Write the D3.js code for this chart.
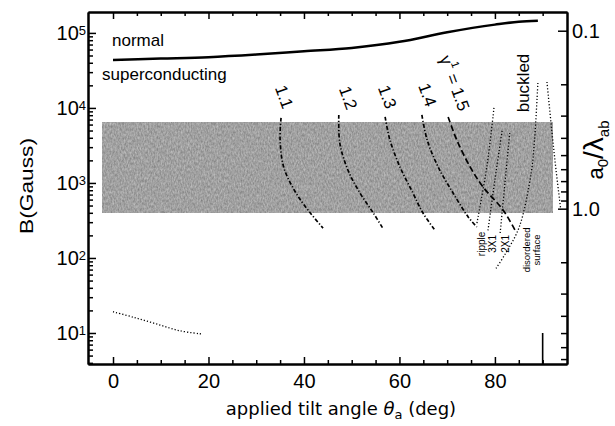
<!DOCTYPE html>
<html>
<head>
<meta charset="utf-8">
<script src="https://cdn.jsdelivr.net/npm/d3@7"></script>
<style>
body { margin: 0; background: #fff; }
svg { display: block; font-family: "Liberation Sans", Arial, sans-serif; }
</style>
</head>
<body>
<div id="chart"></div>
<script>
// ---- data ----
const normalDeg = [0, 10, 20, 30, 40, 50, 60, 70, 80, 85, 89];
const normalB = [43600, 45500, 47500, 51500, 57000, 63000, 76000, 102000, 129000, 141000, 145000];

const gammaNames = ["1.1", "1.2", "1.3", "1.4", "1.5"];
const gamma11Deg = [35.2, 35.0, 35.8, 38.3, 41.3, 44.0];
const gamma11B = [7360, 3750, 1590, 740, 400, 250];
const gamma12Deg = [47.3, 47.5, 49.2, 51.7, 54.5, 56.5];
const gamma12B = [8070, 3420, 1490, 740, 400, 250];
const gamma13Deg = [57.0, 58.0, 60.1, 62.8, 64.9, 67.4];
const gamma13B = [7590, 3750, 1640, 740, 400, 236];
const gamma14Deg = [64.7, 65.8, 68.1, 71.2, 74.4, 76.2];
const gamma14B = [8070, 3750, 1640, 740, 352, 259];
const gamma15Deg = [70.2, 72.0, 74.8, 77.5, 81.7, 84.2];
const gamma15B = [7590, 3750, 1640, 885, 437, 236];

const rippleDeg = [79.8, 78.3, 76.2];
const rippleB = [10000, 1640, 284];
const threeXDeg = [81.5, 80.0, 78.5];
const threeXB = [4940, 1100, 222];
const twoXDeg = [83.1, 82.1, 81.1];
const twoXB = [4640, 1000, 215];
const disorderedDeg = [89.0, 88.3, 87.6, 85.1, 82.3, 80.0];
const disorderedB = [21500, 3750, 1360, 259, 117, 69];
const buckledDeg = [90.9, 91.9, 92.8, 93.8];
const buckledB = [22200, 5090, 1490, 437];
const lowDeg = [0, 4.3, 9.1, 14.0, 18.6];
const lowB = [19.2, 16.2, 13.2, 10.7, 9.7];

const bandDeg = [-2.1, 92.1];
const bandB = [400, 6300];
const markDeg = 90;
const markTopB = 10;

const xMajor = [0, 20, 40, 60, 80];
const yMajorExp = [1, 2, 3, 4, 5];
const rightMajor = [0.1, 1];
const rightLabels = ["0.1", "1.0"];

// ---- layout ----
const width = 615, height = 426;
const svg = d3.select("#chart").append("svg")
    .attr("width", width)
    .attr("height", height);
svg.append("rect").attr("width", width).attr("height", height).attr("fill", "#fff");

const x = d3.scaleLinear().domain([-5.24, 95.1]).range([88, 567]);
const y = d3.scaleLog().domain([3.86, 1.9e5]).range([364, 12]);
const yRight = d3.scaleLog().domain([0.0785, 7.46]).range([12, 364]);

const zip = (a, b) => a.map((v, i) => [v, b[i]]);
const line = d3.line().x(d => x(d[0])).y(d => y(d[1])).curve(d3.curveCatmullRom);

// grainy grey band
const defs = svg.append("defs");
const grain = defs.append("filter").attr("id", "grain")
    .attr("color-interpolation-filters", "sRGB")
    .attr("x", 0).attr("y", 0).attr("width", 1).attr("height", 1);
grain.append("feTurbulence")
    .attr("type", "fractalNoise")
    .attr("baseFrequency", "0.7 0.35")
    .attr("numOctaves", 2)
    .attr("seed", 7)
    .attr("result", "noise");
grain.append("feColorMatrix")
    .attr("in", "noise")
    .attr("type", "matrix")
    .attr("values", "0.32 0 0 0 0.47  0.32 0 0 0 0.47  0.32 0 0 0 0.47  0 0 0 0 1");

svg.append("rect")
    .attr("x", x(bandDeg[0]))
    .attr("y", y(bandB[1]))
    .attr("width", x(bandDeg[1]) - x(bandDeg[0]))
    .attr("height", y(bandB[0]) - y(bandB[1]))
    .attr("fill", "#999")
    .attr("filter", "url(#grain)");

// curves
svg.append("path")
    .datum(zip(normalDeg, normalB))
    .attr("d", line.curve(d3.curveMonotoneX))
    .attr("fill", "none").attr("stroke", "#000").attr("stroke-width", 2.5);
line.curve(d3.curveCatmullRom);

const gammaCurves = [
    zip(gamma11Deg, gamma11B), zip(gamma12Deg, gamma12B), zip(gamma13Deg, gamma13B),
    zip(gamma14Deg, gamma14B), zip(gamma15Deg, gamma15B)
];
svg.append("g").selectAll("path")
    .data(gammaCurves)
    .join("path")
    .attr("d", line)
    .attr("fill", "none")
    .attr("stroke", "#000")
    .attr("stroke-width", 1.7)
    .attr("stroke-dasharray", (d, i) => i === 4 ? "6,3" : "4,2,1.2,2");

const dotted = [
    zip(rippleDeg, rippleB), zip(threeXDeg, threeXB), zip(twoXDeg, twoXB),
    zip(disorderedDeg, disorderedB), zip(buckledDeg, buckledB), zip(lowDeg, lowB)
];
svg.append("g").selectAll("path")
    .data(dotted)
    .join("path")
    .attr("d", line)
    .attr("fill", "none")
    .attr("stroke", "#000")
    .attr("stroke-width", 1.3)
    .attr("stroke-dasharray", "1.2,2");

svg.append("line")
    .attr("x1", x(markDeg)).attr("x2", x(markDeg))
    .attr("y1", y(y.domain()[0])).attr("y2", y(markTopB))
    .attr("stroke", "#000").attr("stroke-width", 1.6);

// ---- axes ----
const xMinor = d3.range(0, 91, 5).filter(v => v % 20 !== 0);
const yMinor = y.ticks().filter(v => !yMajorExp.includes(Math.round(Math.log10(v) * 1000) / 1000));
const rMinor = [0.2, 0.3, 0.4, 0.5, 0.6, 0.7, 0.8, 0.9, 2, 3, 4, 5, 6, 7];

function styleAxis(g) {
    g.select(".domain").attr("stroke-width", 2);
    g.selectAll(".tick line").attr("stroke-width", 1.5);
}

svg.append("g").attr("transform", "translate(0,364)")
    .call(d3.axisBottom(x).tickValues(xMinor).tickSize(-4).tickSizeOuter(0).tickFormat(""))
    .call(styleAxis);
svg.append("g").attr("transform", "translate(0,364)")
    .call(d3.axisBottom(x).tickValues(xMajor).tickSize(-7).tickSizeOuter(0).tickPadding(10))
    .call(styleAxis)
    .call(g => g.selectAll("text")
        .attr("font-size", 20)
        .attr("font-family", "Liberation Sans, Arial, sans-serif")
        .attr("fill", "#000"));

svg.append("g").attr("transform", "translate(0,12)")
    .call(d3.axisTop(x).tickValues(xMinor).tickSize(-4).tickSizeOuter(0).tickFormat(""))
    .call(styleAxis);
svg.append("g").attr("transform", "translate(0,12)")
    .call(d3.axisTop(x).tickValues(xMajor).tickSize(-7).tickSizeOuter(0).tickFormat(""))
    .call(styleAxis);

svg.append("g").attr("transform", "translate(88,0)")
    .call(d3.axisLeft(y).tickValues(yMinor).tickSize(-5).tickSizeOuter(0).tickFormat(""))
    .call(styleAxis);
svg.append("g").attr("transform", "translate(88,0)")
    .call(d3.axisLeft(y).tickValues(yMajorExp.map(e => Math.pow(10, e))).tickSize(-8).tickSizeOuter(0).tickFormat(""))
    .call(styleAxis)
    .call(g => g.selectAll(".tick").each(function (d) {
        const t = d3.select(this).append("text")
            .attr("x", -2)
            .attr("y", 7)
            .attr("text-anchor", "end")
            .attr("fill", "#000")
            .attr("font-size", 20)
            .attr("font-family", "Liberation Sans, Arial, sans-serif");
        t.append("tspan").text("10");
        t.append("tspan").attr("dy", -5).attr("font-size", 13).text(Math.round(Math.log10(d)));
    }));

svg.append("g").attr("transform", "translate(567,0)")
    .call(d3.axisRight(yRight).tickValues(rMinor).tickSize(-6).tickSizeOuter(0).tickFormat(""))
    .call(styleAxis);
svg.append("g").attr("transform", "translate(567,0)")
    .call(d3.axisRight(yRight).tickValues(rightMajor).tickSize(-9).tickSizeOuter(0)
        .tickPadding(5).tickFormat((d, i) => rightLabels[i]))
    .call(styleAxis)
    .call(g => g.selectAll("text")
        .attr("font-size", 20)
        .attr("font-family", "Liberation Sans, Arial, sans-serif")
        .attr("fill", "#000"));

// ---- titles ----
svg.append("text")
    .attr("transform", "translate(33,186) rotate(-90)")
    .attr("text-anchor", "middle")
    .attr("font-size", 19)
    .attr("textLength", 96)
    .attr("lengthAdjust", "spacingAndGlyphs")
    .text("B(Gauss)");

const xt = svg.append("text")
    .attr("x", 341).attr("y", 415)
    .attr("text-anchor", "middle")
    .attr("font-family", "DejaVu Sans, sans-serif")
    .attr("font-size", 18);
xt.append("tspan").text("applied tilt angle ");
xt.append("tspan").attr("font-style", "italic").text("θ");
xt.append("tspan").attr("font-size", 13).attr("dy", 4).text("a");
xt.append("tspan").attr("dy", -4).text(" (deg)");

const rt = svg.append("text")
    .attr("transform", "translate(603,150) rotate(-90)")
    .attr("text-anchor", "middle")
    .attr("font-size", 22);
rt.append("tspan").text("a");
rt.append("tspan").attr("font-size", 15).attr("dy", 5).text("0");
rt.append("tspan").attr("dy", -5).attr("font-size", 28).text("/λ");
rt.append("tspan").attr("font-size", 15).attr("dy", 6).text("ab");

// ---- annotations (positions in data units) ----
const notes = [
    { deg: -0.2, b: 67800, text: "normal", size: 17, angle: 0, anchor: "start" },
    { deg: -2.3, b: 23600, text: "superconducting", size: 17, angle: 0, anchor: "start" }
];
svg.append("g").selectAll("text")
    .data(notes)
    .join("text")
    .attr("x", d => x(d.deg))
    .attr("y", d => y(d.b))
    .attr("font-size", d => d.size)
    .attr("text-anchor", d => d.anchor)
    .text(d => d.text);

const gammaLabelDeg = [35.8, 49.2, 57.4, 65.8, 71.6];
const gammaLabelB = [14000, 13600, 14000, 14900, 21500];
svg.append("g").selectAll("text")
    .data(gammaNames)
    .join("text")
    .attr("transform", (d, i) => `translate(${x(gammaLabelDeg[i])},${y(gammaLabelB[i])}) rotate(70)`)
    .attr("text-anchor", "middle")
    .attr("dominant-baseline", "central")
    .attr("font-size", 17)
    .each(function (d, i) {
        const t = d3.select(this);
        if (i === 4) {
            t.append("tspan").text("γ");
            t.append("tspan").attr("font-size", 11).attr("dy", -7).text("1");
            t.append("tspan").attr("dy", 7).text(" = " + d);
        } else {
            t.text(d);
        }
    });

const phaseNotes = [
    { deg: 85.9, b: 21500, text: "buckled", size: 17 },
    { deg: 77.2, b: 154, text: "ripple", size: 10 },
    { deg: 79.5, b: 154, text: "3X1", size: 10 },
    { deg: 82.3, b: 154, text: "2X1", size: 10 },
    { deg: 86.7, b: 128, text: "disordered", size: 9.5 },
    { deg: 88.8, b: 128, text: "surface", size: 9.5 }
];
svg.append("g").selectAll("text")
    .data(phaseNotes)
    .join("text")
    .attr("transform", d => `translate(${x(d.deg)},${y(d.b)}) rotate(-90)`)
    .attr("text-anchor", "middle")
    .attr("dominant-baseline", "central")
    .attr("font-size", d => d.size)
    .text(d => d.text);
</script>
</body>
</html>
